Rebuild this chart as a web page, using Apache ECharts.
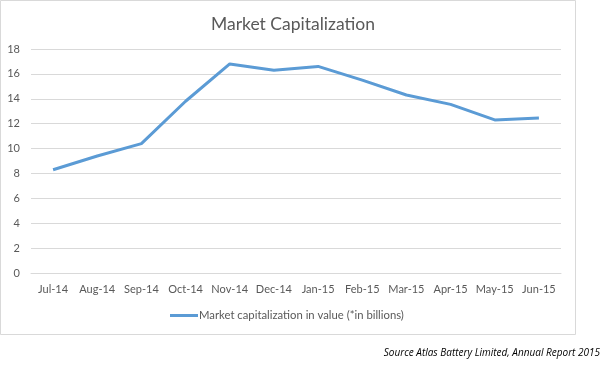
<!DOCTYPE html>
<html><head><meta charset="utf-8">
<script src="https://cdn.jsdelivr.net/npm/echarts@6/dist/echarts.min.js"></script>
<style>html,body{margin:0;padding:0;background:#fff}#c{width:602px;height:370px}</style>
</head><body><div id="c"></div>
<script>
var categories = ["Jul-14","Aug-14","Sep-14","Oct-14","Nov-14","Dec-14","Jan-15","Feb-15","Mar-15","Apr-15","May-15","Jun-15"];
var marketCap = [8.3, 9.4, 10.4, 13.8, 16.8, 16.3, 16.6, 15.5, 14.3, 13.55, 12.3, 12.45];
var seriesName = "Market capitalization in value (*in billions)";
var titleText = "Market Capitalization";
var sourceText = "Source Atlas Battery Limited, Annual Report 2015";

var chart = echarts.init(document.getElementById('c'), null, {renderer:'canvas'});
var font = "Lato, 'Open Sans', sans-serif";
chart.setOption({
  animation: false,
  backgroundColor: '#fff',
  title: {text: titleText, left: 288, top: 10, textAlign: 'center',
    textStyle: {fontFamily: font, fontSize: 17.5, fontWeight: 'normal', color: '#595959'}},
  graphic: [
    {type: 'rect', shape: {x: 0.5, y: 0.5, width: 575, height: 334}, style: {fill: 'none', stroke: '#d9d9d9', lineWidth: 1}, z: -1},
    {type: 'text', right: 2, top: 348, style: {text: sourceText, font: "italic 10px 'Open Sans', sans-serif", fill: '#000'}}
  ],
  legend: {data: [seriesName], left: 165, top: 305, itemWidth: 28, itemHeight: 3, itemGap: 0,
    icon: 'rect', textStyle: {fontFamily: font, fontSize: 11.3, color: '#595959', padding: [0,0,0,-4]}},
  grid: {left: 31, right: 41, top: 49, bottom: 97},
  xAxis: {type: 'category', data: categories, boundaryGap: true,
    axisLine: {show: true, lineStyle: {color: '#d9d9d9'}}, axisTick: {show: false},
    axisLabel: {interval: 0, fontFamily: font, fontSize: 11, color: '#595959', margin: 11}},
  yAxis: {type: 'value', min: 0, max: 18, interval: 2,
    axisLine: {show: false}, axisTick: {show: false},
    splitLine: {lineStyle: {color: '#d9d9d9'}},
    axisLabel: {fontFamily: font, fontSize: 11, color: '#595959', margin: 11}},
  series: [{name: seriesName, type: 'line', data: marketCap, symbol: 'none',
    lineStyle: {color: '#5B9BD5', width: 3}, itemStyle: {color: '#5B9BD5'}}]
});
</script></body></html>
